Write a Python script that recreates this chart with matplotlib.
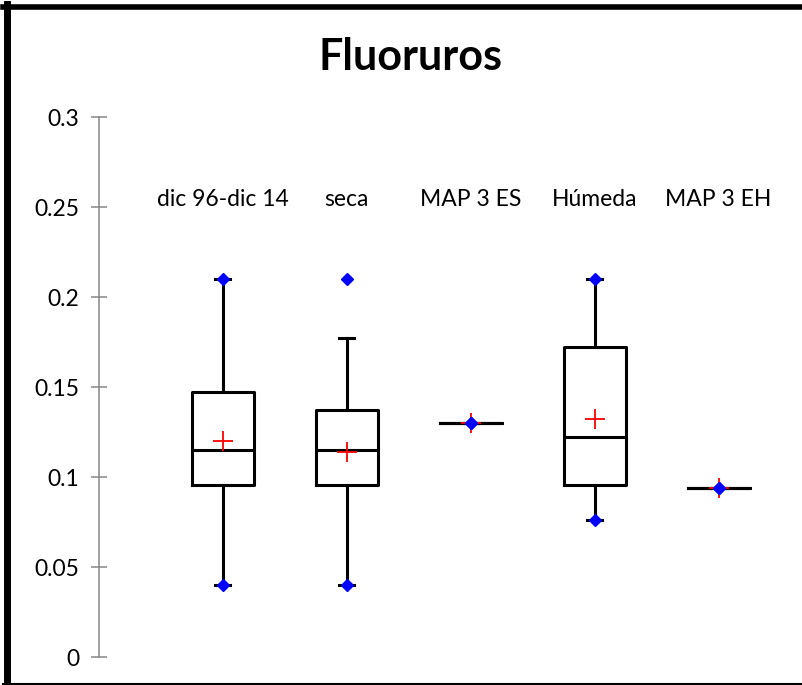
import matplotlib.pyplot as plt
from matplotlib.lines import Line2D

plt.rcParams['font.family'] = ['Lato', 'DejaVu Sans']

# resumen por periodo
categorias = ["dic 96-dic 14", "seca", "MAP 3 ES", "Húmeda", "MAP 3 EH"]
q1 = [0.0955, 0.0955, 0.130, 0.0955, 0.094]
mediana = [0.115, 0.115, 0.130, 0.122, 0.094]
q3 = [0.147, 0.137, 0.130, 0.1725, 0.094]
bigote_inf = [0.040, 0.040, 0.130, 0.076, 0.094]
bigote_sup = [0.210, 0.1775, 0.130, 0.210, 0.094]
media = [0.120, 0.114, 0.130, 0.132, 0.094]
minimo = [0.040, 0.040, 0.130, 0.076, 0.094]
maximo = [0.210, 0.210, 0.130, 0.210, 0.094]

fig = plt.figure(figsize=(8.02, 6.85), dpi=100)
ax = fig.add_axes([99 / 802, 28 / 685, 694 / 802, 540 / 685])

pos = list(range(1, len(categorias) + 1))
stats = []
for i in range(len(categorias)):
    stats.append({"q1": q1[i], "med": mediana[i], "q3": q3[i],
                  "whislo": bigote_inf[i], "whishi": bigote_sup[i],
                  "mean": media[i], "fliers": []})

lw = 2.2
ax.bxp(stats, positions=pos, widths=0.5, capwidths=0.12, showmeans=False,
       showfliers=False,
       boxprops=dict(color="black", lw=lw),
       medianprops=dict(color="black", lw=lw),
       whiskerprops=dict(color="black", lw=lw),
       capprops=dict(color="black", lw=lw))

ax.plot(pos, media, ls="none", marker="+", ms=14, mew=1.3, color="red", zorder=4)
ax.plot(pos, minimo, ls="none", marker="D", ms=6, color="blue", mec="blue", zorder=5)
ax.plot(pos, maximo, ls="none", marker="D", ms=6, color="blue", mec="blue", zorder=5)

# nombres de las series sobre las cajas
for p, c in zip(pos, categorias):
    ax.text(p, 0.254, c, ha="center", va="center", fontsize=16.5, clip_on=False)

ax.set_xlim(0, 5.6)
ax.set_ylim(0, 0.3)
ax.set_yticks([0, 0.05, 0.1, 0.15, 0.2, 0.25, 0.3])
ax.set_yticklabels(["0", "0.05", "0.1", "0.15", "0.2", "0.25", "0.3"])
ax.set_xticks([])
for s in ["top", "right", "bottom"]:
    ax.spines[s].set_visible(False)
ax.spines["left"].set_color("#868686")
ax.spines["left"].set_linewidth(1.1)
ax.tick_params(axis="y", direction="inout", length=12, width=1.1,
               color="#868686", labelsize=16.5, pad=8)

fig.text(411 / 802, 1 - 57 / 685, "Fluoruros", ha="center", va="center",
         fontsize=31, fontweight="bold")

# marco del grafico
fig.add_artist(Line2D([6.5 / 802, 6.5 / 802], [0, 1 - 4 / 685], color="black", lw=5,
                      transform=fig.transFigure))
fig.add_artist(Line2D([3 / 802, 1], [1 - 6.5 / 685, 1 - 6.5 / 685], color="black", lw=4,
                      transform=fig.transFigure))
fig.add_artist(Line2D([3 / 802, 1], [1 / 685, 1 / 685], color="black", lw=1.5,
                      transform=fig.transFigure))

fig.savefig("out.png", dpi=100)
